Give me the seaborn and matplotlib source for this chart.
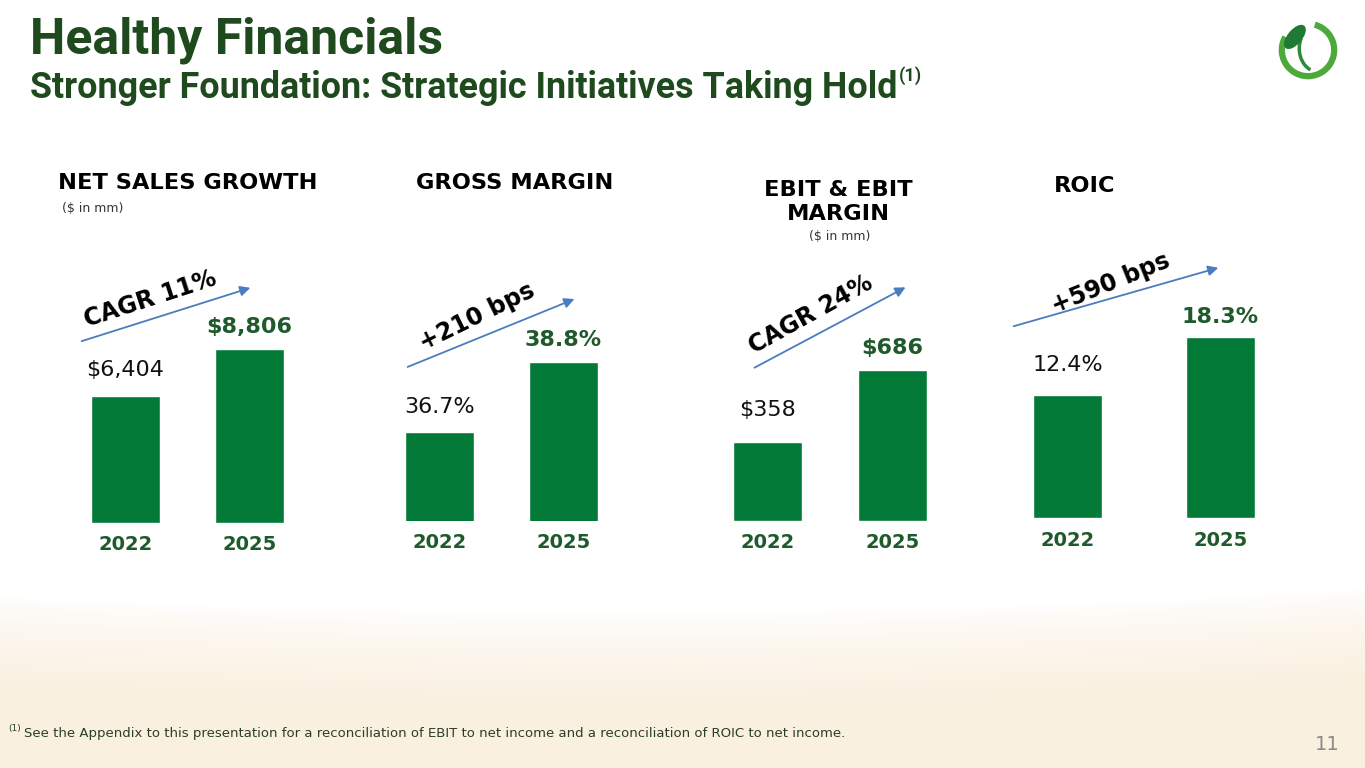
import numpy as np
import matplotlib
matplotlib.use("Agg")
import matplotlib.pyplot as plt
import seaborn as sns
from matplotlib.patches import Arc, Ellipse, FancyArrowPatch

# Data
years = ["2022", "2025"]
net_sales = [6404, 8806]
gross_margin = [36.7, 38.8]
ebit = [358, 686]
roic = [12.4, 18.3]

net_sales_labels = ["$6,404", "$8,806"]
gross_margin_labels = ["36.7%", "38.8%"]
ebit_labels = ["$358", "$686"]
roic_labels = ["12.4%", "18.3%"]

panel_titles = ["NET SALES GROWTH", "GROSS MARGIN", "EBIT & EBIT\nMARGIN", "ROIC"]
panel_units = ["($ in mm)", "", "($ in mm)", ""]
growth_labels = ["CAGR 11%", "+210 bps", "CAGR 24%", "+590 bps"]

title = "Healthy Financials"
subtitle = "Stronger Foundation: Strategic Initiatives Taking Hold"
footnote = "See the Appendix to this presentation for a reconciliation of EBIT to net income and a reconciliation of ROIC to net income."
page_number = "11"

# Layout (pixels on a 1365x768 canvas)
W, H = 1365, 768
BAR_GREEN = "#037A37"
DARK_GREEN = "#1F5A2C"
TITLE_GREEN = "#1E4A1E"
ARROW_BLUE = "#4A7CC0"

panels = [
    # first bar centre, bar spacing, baseline, px per unit, axis base
    dict(vals=net_sales, labels=net_sales_labels, c0=125.5, step=124, base_y=523, ppu=174 / 8806, y0=0,
         offs=[26, 22], title_xy=(58, 183), title_ha="left", unit_xy=(62, 208),
         growth_xy=(150, 299), rot=18, arrow=((79, 342), (253, 287))),
    dict(vals=gross_margin, labels=gross_margin_labels, c0=439.5, step=124, base_y=521, ppu=33.3, y0=34.03,
         offs=[25, 22], title_xy=(416, 183), title_ha="left", unit_xy=None,
         growth_xy=(477, 317), rot=26, arrow=((405, 368), (577, 298))),
    dict(vals=ebit, labels=ebit_labels, c0=767.5, step=125, base_y=521, ppu=151 / 686, y0=0,
         offs=[32, 22], title_xy=(838, 202), title_ha="center", unit_xy=(840, 237),
         growth_xy=(811, 315), rot=29, arrow=((752, 369), (908, 286))),
    dict(vals=roic, labels=roic_labels, c0=1067.5, step=153, base_y=518, ppu=181 / 18.3, y0=0,
         offs=[30, 20], title_xy=(1054, 186), title_ha="left", unit_xy=None,
         growth_xy=(1111, 283), rot=22, arrow=((1011, 327), (1221, 267))),
]


def fx(px):
    return px / W


def fy(py):
    return 1 - py / H


sns.set_style("white")
plt.rcParams["font.family"] = ["DejaVu Sans"]

fig = plt.figure(figsize=(W / 100, H / 100), dpi=100)
fig.patch.set_facecolor("white")

# sandy background at the bottom
bg = fig.add_axes([0, 0, 1, 1], zorder=-5)
yy, xx = np.mgrid[0:H, 0:W]
edge = 588 + 24 * (1 - ((xx - W * 0.45) / (W * 0.55)) ** 2)
t = np.clip((yy - edge) / 90.0, 0, 1) ** 0.7
sand = np.array([250, 240, 224]) / 255.0
img = np.ones((H, W, 3)) * (1 - t[..., None]) + sand * t[..., None]
bg.imshow(img, extent=[0, W, H, 0], aspect="auto")
bg.set_xlim(0, W)
bg.set_ylim(H, 0)
bg.axis("off")

axh = 300
for p, ttl, unit, glab in zip(panels, panel_titles, panel_units, growth_labels):
    left = p["c0"] - p["step"] / 2
    ax = fig.add_axes([fx(left), fy(p["base_y"]), fx(2 * p["step"]), axh / H])
    sns.barplot(x=years, y=p["vals"], ax=ax, color=BAR_GREEN, saturation=1, width=69 / p["step"])
    ax.set_xlim(-0.5, 1.5)
    ax.set_ylim(p["y0"], p["y0"] + axh / p["ppu"])
    ax.set_facecolor("none")
    sns.despine(ax=ax, left=True, bottom=True)
    ax.set_yticks([])
    ax.set_ylabel("")
    ax.tick_params(axis="x", length=0, pad=9)
    for lab in ax.get_xticklabels():
        lab.set_fontsize(14)
        lab.set_fontweight("bold")
        lab.set_color(DARK_GREEN)

    for i, (v, lab) in enumerate(zip(p["vals"], p["labels"])):
        bold = i == 1
        ax.annotate(lab, xy=(i, v), xytext=(0, p["offs"][i] * 0.72), textcoords="offset points",
                    ha="center", va="center", fontsize=16,
                    fontweight="bold" if bold else "normal",
                    color=DARK_GREEN if bold else "#111111")

    fig.text(fx(p["title_xy"][0]), fy(p["title_xy"][1]), ttl, ha=p["title_ha"], va="center",
             fontsize=16.2, fontweight="bold", color="black", linespacing=1.2)
    if unit:
        ux, uy = p["unit_xy"]
        fig.text(fx(ux), fy(uy), unit, ha="left" if p["title_ha"] == "left" else "center",
                 va="center", fontsize=9, color="#333333")

    (x1, y1), (x2, y2) = p["arrow"]
    fig.add_artist(FancyArrowPatch(
        (fx(x1), fy(y1)), (fx(x2), fy(y2)), transform=fig.transFigure,
        arrowstyle="-|>", mutation_scale=15, color=ARROW_BLUE, lw=1.3))
    fig.text(fx(p["growth_xy"][0]), fy(p["growth_xy"][1]), glab, rotation=p["rot"],
             rotation_mode="anchor", ha="center", va="center", fontsize=17,
             fontweight="bold", color="black")

# Title block
fig.text(fx(30), fy(40), title, ha="left", va="center", fontsize=36, fontweight="bold",
         color=TITLE_GREEN, family="Roboto")
sub = fig.text(fx(30), fy(88), subtitle, ha="left", va="center", fontsize=25.8, fontweight="bold",
               color=TITLE_GREEN, family="Roboto")
renderer = fig.canvas.get_renderer()
bb = sub.get_window_extent(renderer)
fig.text(bb.x1 / W + fx(1), fy(76), "(1)", ha="left", va="center", fontsize=13, fontweight="bold",
         color=TITLE_GREEN, family="Roboto")

# Footnote and page number
fig.text(fx(8), fy(728), "(1)", ha="left", va="center", fontsize=6.5, color="#2B3E27")
fig.text(fx(24), fy(733), footnote, ha="left", va="center", fontsize=9.5, color="#2B3E27")
fig.text(fx(1327), fy(745), page_number, ha="center", va="center", fontsize=14, color="#8A8A8A")

# Logo
lg = fig.add_axes([fx(1276), fy(82), fx(64), 64 / H])
lg.set_xlim(-1.1, 1.1)
lg.set_ylim(-1.1, 1.1)
lg.set_aspect("equal")
lg.axis("off")
lg.add_patch(Arc((0, 0), 1.8, 1.8, theta1=150, theta2=75, lw=4.5, color="#4CA93A"))
lg.add_patch(Arc((0.35, 0.05), 1.3, 1.6, theta1=150, theta2=250, lw=2.5, color="#2E8B3A"))
lg.add_patch(Ellipse((-0.45, 0.45), 0.45, 0.95, angle=-40, color="#1E7A34"))

fig.savefig("out.png", dpi=100)
